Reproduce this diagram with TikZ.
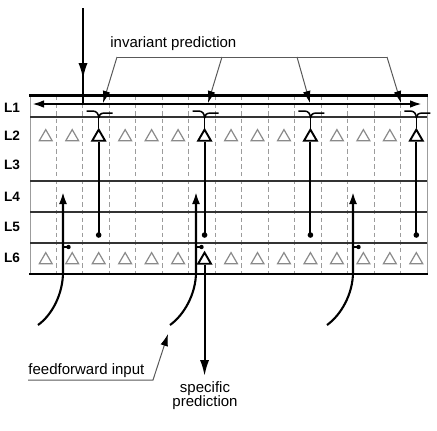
\documentclass[tikz,border=0pt]{standalone}
\usepackage{fontspec}
\setmainfont{Liberation Sans}
\usetikzlibrary{arrows.meta,shapes.geometric}
\definecolor{grid}{HTML}{9C9C9C}
\definecolor{cellg}{HTML}{8A8A8A}
\definecolor{rule}{HTML}{333333}
\tikzset{
  sheet/.style={line width=1.5pt},
  layer/.style={line width=0.9pt, rule},
  edgeln/.style={line width=0.5pt, grid},
  colline/.style={line width=0.45pt, grid, dash pattern=on 2.2pt off 1.6pt},
  cell/.style={regular polygon, regular polygon sides=3, draw=cellg, line width=0.6pt, minimum size=7.4pt, inner sep=0pt},
  pyr/.style={cell, draw=black, line width=0.95pt},
  axon/.style={line width=1.05pt},
  dend/.style={line width=0.75pt},
  bigarr/.style={axon, -{Latex[length=8pt, width=4.6pt]}},
  ffarr/.style={axon, -{Latex[length=6pt, width=4pt]}},
  callout/.style={line width=0.5pt, black!65},
  tip/.style={-{Latex[length=6pt, width=3.8pt, color=black]}},
  lab/.style={font=\fontsize{6.8}{7}\selectfont\bfseries, inner sep=0pt},
  slab/.style={font=\fontsize{7.5}{7}\selectfont, inner sep=0pt},
}

\begin{document}
\begin{tikzpicture}[x=0.5pt, y=-0.5pt]
\useasboundingbox (0,0) rectangle (437,430);
\def\cw{26.47}

% ---- layer labels
\foreach \n/\y in {1/108, 2/136, 3/165, 4/197, 5/227, 6/258}
  \node[lab] (L\n) at (12,\y) {L\n};

% ---- column borders
\foreach \k in {1,...,14}
  \draw[colline] ({30+\k*\cw},96) -- ({30+\k*\cw},273);

% ---- sheet and layer boundaries
\draw[edgeln] (30,95) -- (30,274);
\draw[edgeln] (427,95) -- (427,274);
\foreach \y in {117,181,212,243}
  \draw[layer] (30,\y) -- (427,\y);
\draw[sheet] (29,95) -- (428,95);
\draw[line width=1.3pt] (29,274) -- (428,274);

% ---- cells in L2 and L6
\foreach \k in {0,1,3,4,5,7,8,9,11,12,13}
  \node[cell] (up\k) at ({30+(\k+0.5)*\cw+2.5},137) {};
\foreach \k in {0,...,5,7,8,...,14}
  \node[cell] (lo\k) at ({30+(\k+0.5)*\cw+2.5},260) {};

% ---- pyramidal cells: dendrite to L1, axon to L5
\foreach \k in {2,6,10,14} {
  \node[pyr] (up\k) at ({30+(\k+0.5)*\cw+2.5},137) {};
  \coordinate (d\k) at ({30+(\k+0.5)*\cw+2.5},118);
  \coordinate (s\k) at ({30+(\k+0.5)*\cw+2.5},235);
  \draw[dend] (up\k.corner 1) -- (d\k);
  \draw[dend] (d\k) .. controls +(0,-4) and +(4,0) .. ++(-6,-7) -- ++(-6,0);
  \draw[dend] (d\k) .. controls +(0,-3) and +(-4,0) .. ++(6,-5) -- ++(8,0);
  \draw[axon] (up\k.south) -- (s\k);
  \fill (s\k) circle (1.4pt);
}
\node[pyr] (lo6) at ({30+6.5*\cw+2.5},260) {};

% ---- feedforward axons into L4
\foreach \i/\x/\s in {1/63/38, 2/196/170, 3/353/327} {
  \coordinate (ffs\i) at (\s,325);
  \coordinate (ffb\i) at (\x,272);
  \coordinate (fft\i) at (\x,192);
  \coordinate (ffj\i) at (\x,247);
  \coordinate (br\i) at ({\x+5.5},247);
  \draw[ffarr] (ffs\i) .. controls +(14,-10) and +(0,22) .. (ffb\i) -- (fft\i);
  \draw[line width=0.6pt] (ffj\i) -- (br\i);
  \fill (br\i) circle (1.1pt);
}

% ---- input from above and L1 axon
\coordinate (inS) at (83,8);
\coordinate (inT) at (83,79);
\coordinate (inE) at (83,104);
\draw[axon] (inS) -- (inE);
\draw[bigarr] (inS) -- (inT);
\coordinate (l1w) at (32,104);
\coordinate (l1e) at (422,104);
\draw[axon, {Latex[length=6pt, width=3.8pt]}-{Latex[length=6pt, width=3.8pt]}] (l1w) -- (l1e);

% ---- invariant prediction callout
\node[slab, anchor=base west] (inv) at (110,47) {invariant prediction};
\coordinate (b1) at (117,57);
\coordinate (b2) at (222,57);
\coordinate (b3) at (297,57);
\coordinate (b4) at (387,57);
\draw[callout] (b1) -- (b4);
\foreach \i/\t in {1/103, 2/208, 3/310, 4/401} {
  \coordinate (p\i) at (\t,103);
  \draw[callout, tip] (b\i) -- (p\i);
}

% ---- specific prediction
\coordinate (sp) at ({30+6.5*\cw+2.5},376);
\draw[bigarr] (lo6.south) -- (sp);
\node[slab, align=center, anchor=north] (spec) at (205,381) {specific\\prediction};

% ---- feedforward input callout
\node[slab, anchor=base west] (ffin) at (28,374) {feedforward input};
\coordinate (u1) at (28,380);
\coordinate (u2) at (153,380);
\coordinate (u3) at (168,334);
\draw[callout, tip] (u1) -- (u2) -- (u3);

\end{tikzpicture}
\end{document}
